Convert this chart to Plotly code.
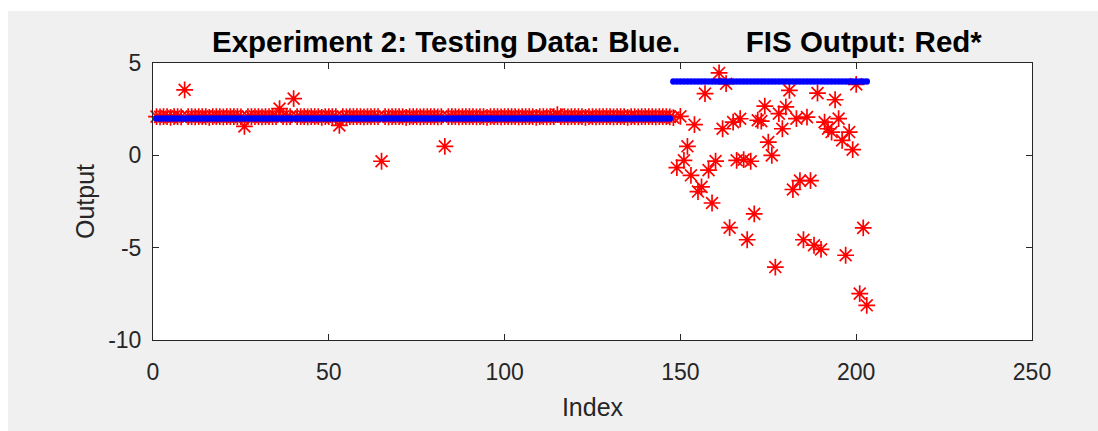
import plotly.graph_objects as go

# Sample index (1..203)
index = list(range(1, 204))

# Testing data (blue)
testing_data = [
    2, 2, 2, 2, 2, 2, 2, 2, 2, 2, 2, 2, 2, 2, 2, 2, 2, 2, 2, 2,
    2, 2, 2, 2, 2, 2, 2, 2, 2, 2, 2, 2, 2, 2, 2, 2, 2, 2, 2, 2,
    2, 2, 2, 2, 2, 2, 2, 2, 2, 2, 2, 2, 2, 2, 2, 2, 2, 2, 2, 2,
    2, 2, 2, 2, 2, 2, 2, 2, 2, 2, 2, 2, 2, 2, 2, 2, 2, 2, 2, 2,
    2, 2, 2, 2, 2, 2, 2, 2, 2, 2, 2, 2, 2, 2, 2, 2, 2, 2, 2, 2,
    2, 2, 2, 2, 2, 2, 2, 2, 2, 2, 2, 2, 2, 2, 2, 2, 2, 2, 2, 2,
    2, 2, 2, 2, 2, 2, 2, 2, 2, 2, 2, 2, 2, 2, 2, 2, 2, 2, 2, 2,
    2, 2, 2, 2, 2, 2, 2,
    4, 4, 4, 4, 4, 4, 4, 4, 4, 4, 4, 4, 4, 4, 4, 4, 4, 4, 4, 4,
    4, 4, 4, 4, 4, 4, 4, 4, 4, 4, 4, 4, 4, 4, 4, 4, 4, 4, 4, 4,
    4, 4, 4, 4, 4, 4, 4, 4, 4, 4, 4, 4, 4, 4, 4, 4,
]

# FIS output (red stars)
fis_output = [
    2.1, 2.08, 2.1, 2.1, 2.06, 2.1, 2.1, 2.08, 3.55, 2.1,
    2.1, 2.08, 2.1, 2.1, 2.1, 2.06, 2.1, 2.1, 2.1, 2.08,
    2.1, 2.1, 2.1, 2.1, 2.08, 1.57, 2.1, 2.1, 2.1, 2.1,
    2.08, 2.1, 2.1, 2.1, 2.1, 2.53, 2.1, 2.08, 2.1, 3.07,
    2.1, 2.1, 2.1, 2.08, 2.1, 2.1, 2.1, 2.06, 2.1, 2.1,
    2.1, 2.1, 1.62, 2.1, 2.08, 2.1, 2.1, 2.1, 2.1, 2.08,
    2.1, 2.1, 2.1, 2.1, -0.32, 2.1, 2.08, 2.1, 2.1, 2.1,
    2.1, 2.06, 2.1, 2.1, 2.1, 2.08, 2.1, 2.1, 2.1, 2.1,
    2.08, 2.1, 0.49, 2.1, 2.1, 2.1, 2.08, 2.1, 2.1, 2.1,
    2.1, 2.08, 2.1, 2.1, 2.06, 2.1, 2.1, 2.1, 2.08, 2.1,
    2.1, 2.1, 2.1, 2.08, 2.1, 2.1, 2.1, 2.1, 2.06, 2.1,
    2.1, 2.08, 2.1, 2.1, 2.2, 2.1, 2.1, 2.08, 2.1, 2.1,
    2.1, 2.1, 2.06, 2.1, 2.1, 2.08, 2.1, 2.1, 2.1, 2.1,
    2.08, 2.1, 2.1, 2.1, 2.06, 2.1, 2.1, 2.08, 2.1, 2.1,
    2.1, 2.1, 2.08, 2.1, 2.1, 2.1, 2.08,
    2.04, -0.67, 2.11, -0.27, 0.49, -1.08, 1.66, -1.96, -1.71, 3.34,
    -0.8, -2.58, -0.31, 4.46, 1.44, 3.88, -3.92, 1.8, -0.27, 1.98,
    -0.23, -4.57, -0.32, -3.17, 1.9, 1.85, 2.66, 0.72, 0.0, -6.05,
    2.26, 1.44, 2.62, 3.52, -1.85, 1.99, -1.37, -4.57, 2.07, -1.37,
    -4.87, 3.37, -5.09, 1.8, 1.44, 1.26, 3.01, 1.99, 0.81, -5.41,
    1.26, 0.31, 3.84, -7.49, -3.93, -8.12,
]

x_ticks = [0, 50, 100, 150, 200, 250]
y_ticks = [-10, -5, 0, 5]
y_tick_labels = ["-10", "-5", "0", "5"]

FONT = "Liberation Sans, Arial, Helvetica, sans-serif"
AXC = "#262626"

fig = go.Figure()
fig.add_trace(go.Scatter(
    x=index, y=fis_output, mode="markers", cliponaxis=False,
    marker=dict(symbol="asterisk-open", size=14, color="#ff0000",
                line=dict(color="#ff0000", width=1.7)),
    showlegend=False,
))
fig.add_trace(go.Scatter(
    x=index, y=testing_data, mode="markers", cliponaxis=False,
    marker=dict(symbol="circle", size=6.5, color="#0000ff", line=dict(width=0)),
    showlegend=False,
))

sp = "\u00a0" * 8
fig.update_layout(
    width=1098, height=431,
    margin=dict(l=153, r=66, t=63, b=91),
    paper_bgcolor="#f0f0f0",
    plot_bgcolor="#ffffff",
    font=dict(family=FONT, color=AXC),
    title=dict(text="<b>Experiment 2: Testing Data: Blue." + sp + "FIS Output: Red*</b>",
               x=0.505, xanchor="center", xref="paper", y=1, yref="paper", yanchor="bottom",
               pad=dict(b=11),
               font=dict(family=FONT, size=29.5, color="#000000")),
    xaxis=dict(range=[0, 250], tickvals=x_ticks, ticks="inside", ticklen=6,
               tickcolor=AXC, showline=True, linecolor=AXC, linewidth=1, mirror="allticks",
               showgrid=False, zeroline=False, tickfont=dict(size=23, color=AXC),
               ticklabelstandoff=11,
               title=dict(text="Index", font=dict(size=25, color=AXC), standoff=14)),
    yaxis=dict(range=[-10, 5], tickvals=y_ticks, ticktext=y_tick_labels,
               ticks="inside", ticklen=6,
               tickcolor=AXC, showline=True, linecolor=AXC, linewidth=1, mirror="allticks",
               showgrid=False, zeroline=False, tickfont=dict(size=23, color=AXC),
               ticklabelstandoff=6,
               title=dict(text="Output", font=dict(size=25, color=AXC), standoff=6)),
    shapes=[
        dict(type="rect", xref="paper", yref="paper", ysizemode="pixel", yanchor=1,
             x0=-0.2, x1=1.1, y0=52, y1=70, fillcolor="#ffffff", line=dict(width=0), layer="below"),
        dict(type="rect", xref="paper", yref="paper", xsizemode="pixel", xanchor=0,
             x0=-160, x1=-145, y0=-0.5, y1=1.3, fillcolor="#ffffff", line=dict(width=0), layer="below"),
    ],
)

fig.write_html("out.html")
